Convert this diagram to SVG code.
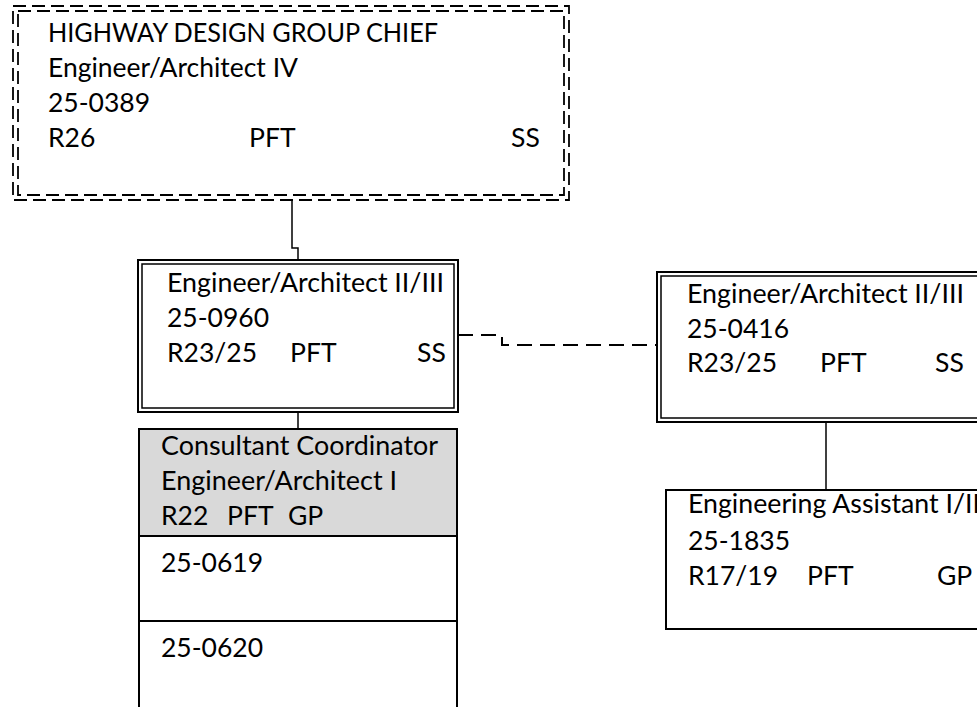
<svg xmlns="http://www.w3.org/2000/svg" width="977" height="707" viewBox="0 0 977 707">
<style>
.t{font-family:Lato,"Open Sans","Liberation Sans",sans-serif;font-size:26.5px;fill:#000}
.box{fill:#fff;stroke:#000;stroke-width:2}
.inner{fill:none;stroke:#000;stroke-width:1.5}
.dash{fill:none;stroke:#000;stroke-width:1.8;stroke-dasharray:13 6}
.conn{fill:none;stroke:#000;stroke-width:1.5}
.conn-d{fill:none;stroke:#000;stroke-width:2;stroke-dasharray:15 8}
</style>
<rect width="977" height="707" fill="#fff"/>
<g id="connectors">
<path class="conn" d="M292 200 V248 H298 V260"/>
<path class="conn-d" d="M458 335 H502 V345 H657"/>
<path class="conn" d="M298 412 V429"/>
<path class="conn" d="M826 422 V490"/>
</g>
<g id="node-chief">
<rect x="13" y="6" width="556" height="194" fill="#fff" class="dash"/>
<rect x="18" y="11" width="546" height="184" class="dash"/>
<text class="t" x="48" y="42" textLength="390" lengthAdjust="spacingAndGlyphs">HIGHWAY DESIGN GROUP CHIEF</text>
<text class="t" x="48" y="77" textLength="250" lengthAdjust="spacingAndGlyphs">Engineer/Architect IV</text>
<text class="t" x="48" y="112">25-0389</text>
<text class="t" x="48" y="147">R26</text>
<text class="t" x="249" y="147">PFT</text>
<text class="t" x="511" y="147">SS</text>
</g>
<g id="node-0960">
<rect class="box" x="138" y="260" width="320" height="152"/>
<rect class="inner" x="142" y="264" width="312" height="144"/>
<text class="t" x="167" y="292" textLength="277" lengthAdjust="spacingAndGlyphs">Engineer/Architect II/III</text>
<text class="t" x="167" y="327">25-0960</text>
<text class="t" x="167" y="362">R23/25</text>
<text class="t" x="290" y="362">PFT</text>
<text class="t" x="417" y="362">SS</text>
</g>
<g id="node-0416">
<rect class="box" x="657" y="272" width="340" height="150"/>
<rect class="inner" x="661" y="276" width="332" height="142"/>
<text class="t" x="687" y="303" textLength="277" lengthAdjust="spacingAndGlyphs">Engineer/Architect II/III</text>
<text class="t" x="687" y="338">25-0416</text>
<text class="t" x="687" y="372">R23/25</text>
<text class="t" x="820" y="372">PFT</text>
<text class="t" x="935" y="372">SS</text>
</g>
<g id="node-1835">
<rect class="box" x="666" y="490" width="330" height="139"/>
<text class="t" x="688" y="513" textLength="292" lengthAdjust="spacingAndGlyphs">Engineering Assistant I/II</text>
<text class="t" x="688" y="550">25-1835</text>
<text class="t" x="688" y="585">R17/19</text>
<text class="t" x="807" y="585">PFT</text>
<text class="t" x="937" y="585">GP</text>
</g>
<g id="node-consultant">
<rect class="box" x="139" y="429" width="318" height="107" style="fill:#d9d9d9"/>
<text class="t" x="161" y="455" textLength="277" lengthAdjust="spacingAndGlyphs">Consultant Coordinator</text>
<text class="t" x="161" y="490" textLength="236" lengthAdjust="spacingAndGlyphs">Engineer/Architect I</text>
<text class="t" x="161" y="525">R22</text>
<text class="t" x="227" y="525">PFT</text>
<text class="t" x="288" y="525">GP</text>
</g>
<g id="node-0619">
<rect class="box" x="139" y="536" width="318" height="85"/>
<text class="t" x="161" y="572">25-0619</text>
</g>
<g id="node-0620">
<rect class="box" x="139" y="621" width="318" height="100"/>
<text class="t" x="161" y="657">25-0620</text>
</g>
</svg>
